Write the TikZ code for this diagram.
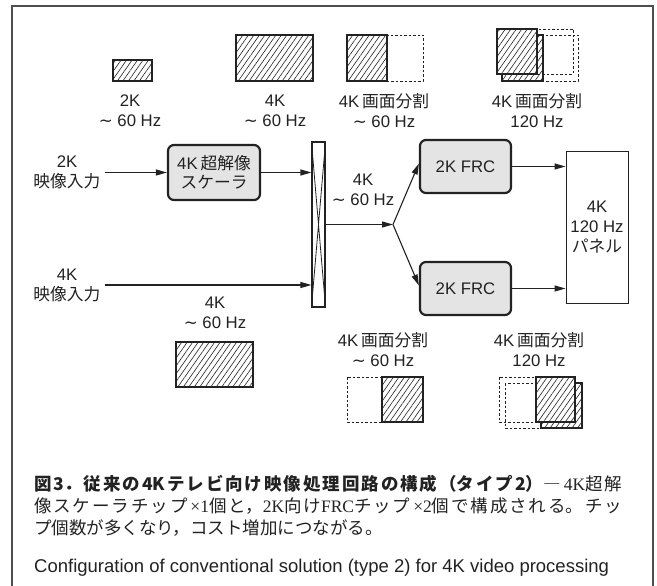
\documentclass[tikz,border=0pt]{standalone}
\usepackage{fontspec}
\usepackage{graphicx}
\setmainfont{Liberation Sans}
\newfontfamily\jp{Noto Sans CJK JP}
\newfontfamily\djv{DejaVu Sans}
\newfontfamily\lserif{Liberation Serif}
\usetikzlibrary{arrows.meta,patterns.meta,calc}
\newcommand\J[1]{{\jp #1}}
\newcommand\Tl{{\djv ∼}}
\definecolor{boxgray}{HTML}{E4E4E4}
\definecolor{ink}{HTML}{222222}
\begin{document}
\begin{tikzpicture}[x=1pt,y=-1pt,
 lbl/.style={font=\fontsize{16.75}{20}\selectfont, align=center, inner sep=0pt, text=ink},
 chip/.style={draw=ink, line width=2.2pt, rounded corners=6pt, fill=boxgray, inner sep=0pt, font=\fontsize{16.75}{19.5}\selectfont, align=center, text=ink},
 arr/.style={draw=ink, line width=1.1pt, -{Triangle[length=11pt,width=6pt]}},
 hatch/.style={draw=ink, line width=1.2pt, preaction={fill=white}, pattern={Lines[angle=55,distance=4.5pt,line width=0.6pt]}, pattern color=ink},
 dsh/.style={draw=ink, line width=0.9pt, dash pattern=on 2.5pt off 2pt},
 captxt/.style={anchor=base west, inner sep=0pt, text=ink},
]
\useasboundingbox (0,0) rectangle (657,586);
% frame
\draw[draw=ink!80, line width=1.4pt] (12,586) -- (12,6) -- (653,6) -- (653,586);

% top icons
\draw[hatch] (113,60) rectangle (152,81);
\draw[hatch] (236,35) rectangle (313,81);
\draw[dsh] (347,35) rectangle (423,81);
\draw[hatch] (347,35) rectangle (387,81);
\draw[dsh] (502,35) rectangle (578,81);
\draw[hatch] (502,35) rectangle (543,81);
\draw[dsh] (497,29) rectangle (573,74);
\draw[hatch] (497,29) rectangle (537,74);

% top labels
\node[lbl] (t2k) at (130,111) {2K\\\Tl\ 60 Hz};
\node[lbl] (t4k) at (275,111) {4K\\\Tl\ 60 Hz};
\node[lbl] (tsp60) at (384,111) {4K\,\J{画面分割}\\\Tl\ 60 Hz};
\node[lbl] (tsp120) at (537,111) {4K\,\J{画面分割}\\120 Hz};

% blocks
\node[lbl] (in2k) at (67,172.5) {2K\\\J{映像入力}};
\node[lbl] (in4k) at (67,285) {4K\\\J{映像入力}};
\node[chip, minimum width=92pt, minimum height=55pt] (scaler) at (214,172.5) {4K\,\J{超解像}\\\J{スケーラ}};
\node[draw=ink, line width=1.1pt, fill=white, minimum width=13pt, minimum height=165pt, inner sep=0pt] (sw) at (318.5,224.5) {};
\draw[ink, line width=0.8pt] (sw.north west) -- (sw.south east) (sw.north east) -- (sw.south west);
\node[chip, minimum width=91pt, minimum height=53pt] (frc1) at (465.5,166.5) {2K FRC};
\node[chip, minimum width=91pt, minimum height=53pt] (frc2) at (465.5,288.5) {2K FRC};
\node[draw=ink, line width=1pt, minimum width=62pt, minimum height=151pt, inner sep=0pt, lbl] (panel) at (597,227.5) {4K\\120 Hz\\\J{パネル}};
\coordinate (br) at (393,224.5);

\draw[arr] ([xshift=4pt]in2k.east) -- (in2k.east -| scaler.west);
\draw[arr] (scaler.east) -- (scaler.east -| sw.west);
\draw[arr] ([xshift=4pt]in4k.east) -- (in4k.east -| sw.west);
\draw[arr] (sw.east) -- (br);
\draw[arr] (br) -- ([yshift=3pt]frc1.west);
\draw[arr] (br) -- ([yshift=3pt]frc2.west);
\draw[arr] (frc1.east) -- (frc1.east -| panel.west);
\draw[arr] (frc2.east) -- (frc2.east -| panel.west);

\node[lbl] (mid) at (363,190) {4K\\\Tl\ 60 Hz};
\node[lbl] (low4k) at (215,313) {4K\\\Tl\ 60 Hz};
\draw[hatch] (176,342) rectangle (253,387);

% bottom labels and icons
\node[lbl] (bsp60) at (383,350) {4K\,\J{画面分割}\\\Tl\ 60 Hz};
\node[lbl] (bsp120) at (539,350) {4K\,\J{画面分割}\\120 Hz};
\draw[dsh] (347,377) rectangle (423,422);
\draw[hatch] (382,377) rectangle (423,422);
\draw[dsh] (505,383) rectangle (582,428);
\draw[hatch] (541,383) rectangle (582,428);
\draw[dsh] (499,377) rectangle (575,422);
\draw[hatch] (536,377) rectangle (575,422);

% caption
\node[captxt] (cap) at (34,490) {\parbox[t]{588pt}{\fontsize{17.5}{22}\selectfont
\XeTeXlinebreaklocale "ja"\XeTeXlinebreakskip=0pt plus 4pt\relax
\tolerance=9999\noindent
{\jp\bfseries 図3．従来の4Kテレビ向け映像処理回路の構成（タイプ2）}{\jp ―}\,{\lserif 4K}{\jp 超解}\linebreak
{\jp 像スケーラチップ}\,{\lserif ×1}{\jp 個と，}{\lserif 2K}{\jp 向け}{\lserif FRC}{\jp チップ}\,{\lserif ×2}{\jp 個で構成される。チッ}\linebreak
{\jp プ個数が多くなり，コスト増加につながる。}}};
\node[captxt, font=\fontsize{18.5}{20}\selectfont] (cap4) at (34,572) {Configuration of conventional solution (type 2) for 4K video processing};
\end{tikzpicture}
\end{document}
